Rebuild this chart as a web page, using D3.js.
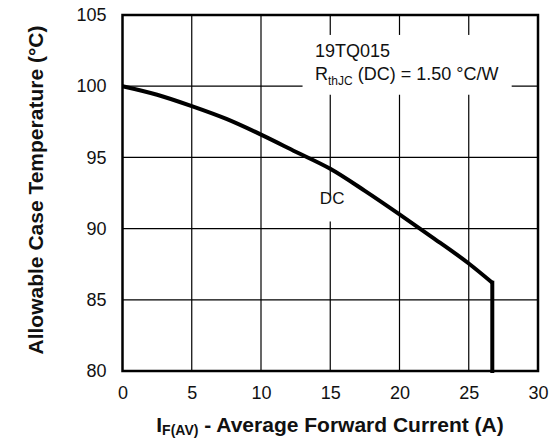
<!DOCTYPE html>
<html>
<head>
<meta charset="utf-8">
<script src="https://cdn.jsdelivr.net/npm/d3@7"></script>
<style>
  body { margin: 0; background: #fff; }
  text { font-family: "Liberation Sans", Arial, sans-serif; }
</style>
</head>
<body>
<div id="chart"></div>
<script>
// data (last point is the drop to the axis)
var current = [0, 2.5, 5, 7.5, 10, 12.5, 15, 17.5, 20, 22.5, 25, 26.7, 26.7];
var caseTemp = [100, 99.4, 98.6, 97.7, 96.6, 95.4, 94.2, 92.65, 91.0, 89.3, 87.55, 86.2, 80];
var xTicks = [0, 5, 10, 15, 20, 25, 30];
var yTicks = [80, 85, 90, 95, 100, 105];

var width = 550, height = 439,
    margin = {top: 15, right: 12, bottom: 68, left: 122.5};
var w = width - margin.left - margin.right,
    h = height - margin.top - margin.bottom;

var svg = d3.select("#chart").append("svg")
    .attr("width", width).attr("height", height)
  .append("g")
    .attr("transform", `translate(${margin.left},${margin.top})`);

var x = d3.scaleLinear().domain([0, 30]).range([0, w]);
var y = d3.scaleLinear().domain([80, 105]).range([h, 0]);

// grid
svg.selectAll(".vgrid").data(xTicks.slice(1, -1)).enter().append("line")
    .attr("x1", d => x(d)).attr("x2", d => x(d))
    .attr("y1", 0).attr("y2", h)
    .style("stroke", "#000").style("stroke-width", 1.2);
svg.selectAll(".hgrid").data(yTicks.slice(1, -1)).enter().append("line")
    .attr("x1", 0).attr("x2", w)
    .attr("y1", d => y(d)).attr("y2", d => y(d))
    .style("stroke", "#000").style("stroke-width", 1.2);

// white boxes behind the annotations
svg.append("rect").attr("x", x(13)).attr("y", y(103.6)).attr("width", x(28.1) - x(13)).attr("height", y(99.4) - y(103.6)).style("fill", "#fff");
svg.append("rect").attr("x", x(14.2)).attr("y", y(92.3)).attr("width", x(16.2) - x(14.2)).attr("height", y(90.5) - y(92.3)).style("fill", "#fff");

// curve: smooth part then the vertical drop
var pts = current.map((c, i) => [c, caseTemp[i]]);
var n = pts.length;
svg.append("path")
    .datum(pts.slice(0, n - 1))
    .attr("d", d3.line().curve(d3.curveMonotoneX).x(d => x(d[0])).y(d => y(d[1])))
    .style("fill", "none").style("stroke", "#000")
    .style("stroke-width", 4).style("stroke-linejoin", "round");
svg.append("path")
    .datum(pts.slice(n - 2))
    .attr("d", d3.line().x(d => x(d[0])).y(d => y(d[1])))
    .style("fill", "none").style("stroke", "#000")
    .style("stroke-width", 4).style("stroke-linecap", "square");

// frame
svg.append("rect").attr("x", 0).attr("y", 0).attr("width", w).attr("height", h)
    .style("fill", "none").style("stroke", "#000").style("stroke-width", 2.5);

// tick labels
var xAxis = d3.axisBottom(x).tickValues(xTicks).tickSize(0).tickPadding(15);
var gx = svg.append("g").attr("transform", `translate(0,${h})`).call(xAxis);
gx.select(".domain").remove();
gx.selectAll("text").style("font-size", "18px").style("fill", "#111")
    .style("font-family", "'Liberation Sans', Arial, sans-serif");

var yAxis = d3.axisLeft(y).tickValues(yTicks).tickSize(0).tickPadding(16);
var gy = svg.append("g").call(yAxis);
gy.select(".domain").remove();
gy.selectAll("text").style("font-size", "18px").style("fill", "#111")
    .style("font-family", "'Liberation Sans', Arial, sans-serif");

// annotations
svg.append("text").attr("x", x(13.9)).attr("y", y(102.05)).text("19TQ015")
    .style("font-size", "18px").style("fill", "#111");
var rt = svg.append("text").attr("x", x(13.9)).attr("y", y(100.45))
    .style("font-size", "18px").style("fill", "#111");
rt.append("tspan").text("R");
rt.append("tspan").text("thJC").style("font-size", "12px").attr("dy", 5);
rt.append("tspan").text(" (DC) = 1.50 \u00B0C/W").attr("dy", -5);

svg.append("text").attr("x", x(14.25)).attr("y", y(91.7)).text("DC")
    .style("font-size", "17px").style("fill", "#111");

// axis titles
var xt = svg.append("text")
    .attr("x", (142 + 518) / 2 - margin.left).attr("y", 432 - margin.top)
    .style("text-anchor", "middle").style("font-weight", "bold")
    .style("font-size", "21px").style("fill", "#111");
xt.append("tspan").text("I");
xt.append("tspan").text("F(AV)").style("font-size", "14px").attr("dy", 3);
xt.append("tspan").text(" - Average Forward Current (A)").attr("dy", -3);

svg.append("text")
    .attr("transform", "rotate(-90)")
    .attr("x", -(190 - margin.top)).attr("y", 43 - margin.left)
    .style("text-anchor", "middle").style("font-weight", "bold")
    .style("font-size", "21px").style("fill", "#111")
    .text("Allowable Case Temperature (\u00B0C)");
</script>
</body>
</html>
